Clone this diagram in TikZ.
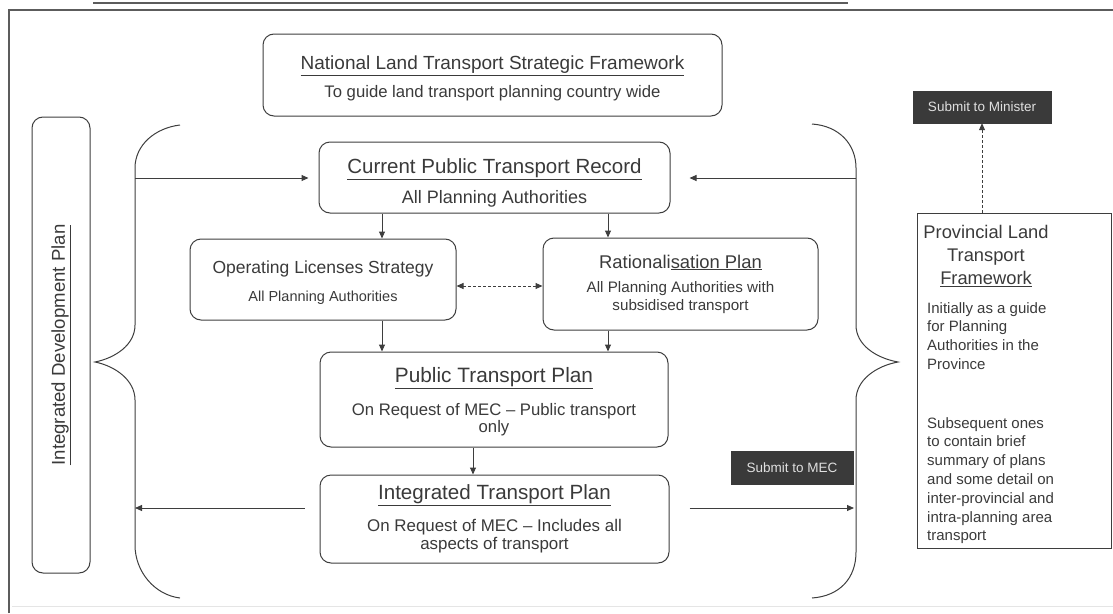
\documentclass[tikz,border=0pt]{standalone}
\usepackage{fontspec}
\setmainfont{Liberation Sans}
\usetikzlibrary{arrows.meta}
\definecolor{ink}{HTML}{3E3E3E}
\definecolor{txt}{HTML}{3A3A3A}
\definecolor{darkfill}{HTML}{3A3A3A}
\definecolor{framecol}{HTML}{5C5C5C}
% heading line of a box: size, then text
\newcommand\boxhead[2]{{\fontsize{#1}{#1}\selectfont#2}}
\newcommand\fs[1]{\fontsize{#1}{18}\selectfont}
\begin{document}
\begin{tikzpicture}[x=1pt,y=-1pt,
  arr/.style={draw=ink, line width=1pt, -{Triangle[length=7pt,width=6pt]}},
  rbox/.style={draw=ink, line width=1pt, rounded corners=11pt, align=center,
    text=txt, inner sep=0pt},
  sbox/.style={draw=ink, line width=1pt, inner sep=0pt},
  dbox/.style={fill=darkfill, draw=darkfill, text=white!88!black,
    inner sep=0pt, font=\fontsize{13.5}{16}\selectfont},
  body/.style={text=txt, align=left, inner sep=0pt, anchor=north west,
    font=\fontsize{15}{18.8}\selectfont},
  brace/.style={draw=ink, line width=1pt}
]
\useasboundingbox (0,0) rectangle (1113,613);

% page frame
\draw[framecol, line width=2.5pt] (9,613) -- (9,10) -- (1113,10);
\draw[framecol, line width=1.2pt] (93,3) -- (848,3);
\draw[gray!20, line width=1pt] (12,606) -- (1113,606);

% planning documents
\node[rbox, font=\fs{16.7}, minimum width=459, minimum height=82] (nltsf) at (492.5,75)
  {\boxhead{19}{\rule{0pt}{21pt}\underline{National Land Transport Strategic Framework}}\\[9pt]
   To guide land transport planning country wide};
\node[rbox, font=\fs{18}, minimum width=351, minimum height=71] (cptr) at (494.5,177.5)
  {\boxhead{20.5}{\rule{0pt}{26pt}\underline{Current Public Transport Record}}\\[10pt]
   All Planning Authorities};
\node[rbox, font=\fs{14.5}, minimum width=266, minimum height=81] (ols) at (323,279.5)
  {\boxhead{17.5}{\rule{0pt}{19pt}Operating Licenses Strategy}\\[10pt]
   All Planning Authorities};
\node[rbox, font=\fs{15.2}, minimum width=275, minimum height=92] (rat) at (680.5,284)
  {\boxhead{18.4}{Rationali\underline{sation Plan}}\\[6pt]
   All Planning Authorities with\\ subsidised transport};
\node[rbox, font=\fontsize{16.7}{17}\selectfont, minimum width=348, minimum height=95] (ptp) at (494,399.5)
  {\boxhead{20.8}{\rule{0pt}{19pt}\underline{Public Transport Plan}}\\[14pt]
   On Request of MEC -- Public transport\\ only};
\node[rbox, font=\fs{16.9}, minimum width=349, minimum height=88] (itp) at (494.5,519)
  {\boxhead{20.6}{\underline{Integrated Transport Plan}}\\[12pt]
   On Request of MEC -- Includes all\\ aspects of transport};

% integrated development plan
\node[rbox, rotate=90, minimum width=456, minimum height=58] (idp) at (61,345)
  {\boxhead{18.6}{\underline{Integrated Development Plan}}};

% provincial framework
\node[sbox, minimum width=194, minimum height=335] (pltf) at (1014,380.5) {};
\node[text=txt, align=center, inner sep=0pt, anchor=north,
  font=\fontsize{18.3}{23}\selectfont] (pltfhead) at (986,225)
  {Provincial Land\\ Transport\\ \underline{Framework}};
\node[body] (pltfa) at (927,302)
  {Initially as a guide\\ for Planning\\ Authorities in the\\ Province};
\node[body] (pltfb) at (927,417)
  {Subsequent ones\\ to contain brief\\ summary of plans\\ and some detail on\\
   inter-provincial and\\ intra-planning area\\ transport};

% submission steps
\node[dbox, minimum width=138, minimum height=32] (minister) at (982,107)
  {Submit to Minister};
\node[dbox, minimum width=122, minimum height=33] (mec) at (792,467.5)
  {Submit to MEC};

% grouping braces
\draw[brace] (180,125) .. controls (155,128) and (135,145) .. (135,168)
  -- (135,325) .. controls (135,345) and (115,358) .. (95,362)
  .. controls (115,366) and (135,380) .. (135,400)
  -- (135,545) .. controls (135,572) and (155,595) .. (180,598);
\draw[brace] (812,124) .. controls (840,126) and (856,145) .. (856,168)
  -- (856,325) .. controls (856,345) and (876,358) .. (898,362)
  .. controls (876,366) and (856,380) .. (856,400)
  -- (856,552) .. controls (856,578) and (840,596) .. (812,598);

% flow between documents
\coordinate (xa) at (382,0);
\coordinate (xb) at (608,0);
\coordinate (xc) at (473,0);
\coordinate (yd) at (0,286);
\draw[arr] (cptr.south -| xa) -- (ols.north -| xa);
\draw[arr] (cptr.south -| xb) -- (rat.north -| xb);
\draw[arr] (ols.south -| xa) -- (ptp.north -| xa);
\draw[arr] (rat.south -| xb) -- (ptp.north -| xb);
\draw[arr] (ptp.south -| xc) -- (itp.north -| xc);
\draw[arr, densely dashed, {Triangle[length=7pt,width=6pt]}-{Triangle[length=7pt,width=6pt]}]
  (ols.east |- yd) -- (rat.west |- yd);

% links to the braces
\coordinate (lb1) at (135,178);
\coordinate (rb1) at (856,178);
\coordinate (lb2) at (135,508);
\coordinate (rb2) at (854,508);
\draw[arr, shorten >=10pt] (lb1) -- (cptr.west |- lb1);
\draw[arr, shorten >=19pt] (rb1) -- (cptr.east |- rb1);
\draw[arr, shorten <=15pt] (itp.west |- lb2) -- (lb2);
\draw[arr, shorten <=20pt] (itp.east |- rb2) -- (rb2);

% provincial framework goes to the minister
\draw[arr, densely dashed] (minister.south |- pltf.north) -- (minister.south);
\end{tikzpicture}
\end{document}
